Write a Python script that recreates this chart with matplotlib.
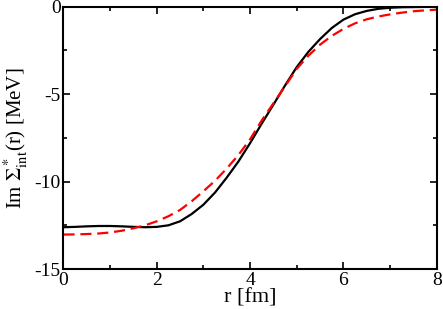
import numpy as np
import matplotlib
matplotlib.use("Agg")
import matplotlib.pyplot as plt
from matplotlib.ticker import MultipleLocator

plt.rcParams["font.family"] = ["Liberation Serif", "DejaVu Serif"]
plt.rcParams["mathtext.fontset"] = "stix"
plt.rcParams["axes.unicode_minus"] = False

# radius in fm
r = [0.0, 0.25, 0.5, 0.75, 1.0, 1.25, 1.5, 1.75, 2.0, 2.25, 2.5, 2.75, 3.0, 3.25,
     3.5, 3.75, 4.0, 4.25, 4.5, 4.75, 5.0, 5.25, 5.5, 5.75, 6.0, 6.25, 6.5, 6.75,
     7.0, 7.25, 7.5, 7.75, 8.0]
# solid black curve
im_solid = [-12.61, -12.59, -12.56, -12.54, -12.54, -12.56, -12.59, -12.61, -12.59,
            -12.50, -12.27, -11.85, -11.32, -10.62, -9.77, -8.85, -7.80, -6.68,
            -5.60, -4.50, -3.45, -2.58, -1.85, -1.22, -0.74, -0.43, -0.24, -0.12,
            -0.06, -0.03, -0.02, -0.01, 0.0]
# dashed red curve
im_dashed = [-13.03, -13.02, -13.00, -12.97, -12.91, -12.81, -12.67, -12.50, -12.27,
             -11.98, -11.62, -11.12, -10.55, -9.95, -9.25, -8.48, -7.58, -6.50,
             -5.52, -4.55, -3.55, -2.80, -2.17, -1.67, -1.27, -0.95, -0.72, -0.56,
             -0.44, -0.34, -0.26, -0.21, -0.17]

fig = plt.figure(figsize=(4.43, 3.09), dpi=100)
ax = fig.add_axes([0.1433, 0.1294, 0.8425, 0.8489])

ax.plot(r, im_solid, color="black", lw=1.6)
ax.plot(r, im_dashed, color="red", lw=1.6, dashes=(5, 2.6))

ax.set_xlim(0, 8)
ax.set_ylim(-15, 0)
ax.xaxis.set_major_locator(MultipleLocator(2))
ax.xaxis.set_minor_locator(MultipleLocator(1))
ax.yaxis.set_major_locator(MultipleLocator(5))
ax.yaxis.set_minor_locator(MultipleLocator(2.5))
ax.tick_params(which="both", direction="in", top=True, right=True, width=1.2,
               labelsize=14, pad=2)
ax.tick_params(which="major", length=5)
ax.tick_params(which="minor", length=3)
for s in ax.spines.values():
    s.set_linewidth(1.5)

ax.set_xlabel("r [fm]", fontsize=16, labelpad=0)
ax.set_ylabel(r"Im $\Sigma^*_{\rm int}$(r) [MeV]", fontsize=15, labelpad=3)

fig.savefig("out.png", dpi=100)
